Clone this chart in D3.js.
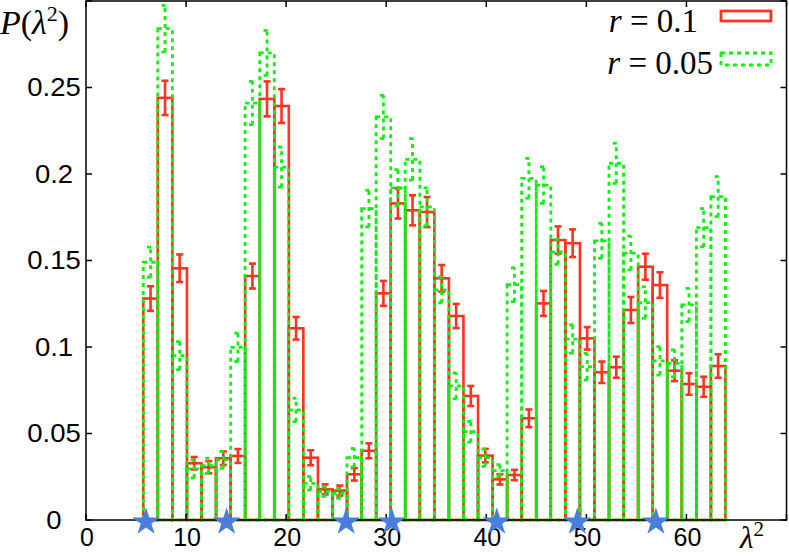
<!DOCTYPE html>
<html>
<head>
<meta charset="utf-8">
<script src="https://cdn.jsdelivr.net/npm/d3@7"></script>
<style>
  body { margin: 0; background: #fff; }
  .tick-label { font-family: "Liberation Sans", Arial, sans-serif; font-size: 25px; fill: #000; }
  .math { font-family: "Liberation Serif", "DejaVu Serif", serif; fill: #000; }
</style>
</head>
<body>
<svg id="chart" width="789" height="557"></svg>
<script>
// bin centres (lambda^2) and bin width
const lambda2 = [6.45, 7.90, 9.36, 10.81, 12.27, 13.72, 15.18, 16.63, 18.09, 19.54,
  20.99, 22.45, 23.90, 25.36, 26.81, 28.27, 29.72, 31.17, 32.63, 34.08,
  35.54, 36.99, 38.45, 39.90, 41.36, 42.81, 44.26, 45.72, 47.17, 48.63,
  50.08, 51.54, 52.99, 54.45, 55.90, 57.35, 58.81, 60.26, 61.72, 63.17];
const binWidth = 1.4544;

// r = 0.1
const redValues = [0.128, 0.244, 0.1455, 0.0328, 0.0305, 0.0357, 0.037, 0.141, 0.2434, 0.2393,
  0.1108, 0.036, 0.0177, 0.017, 0.0264, 0.040, 0.131, 0.183, 0.179, 0.178,
  0.1397, 0.1179, 0.0717, 0.0372, 0.0235, 0.026, 0.0588, 0.1252, 0.1618, 0.160,
  0.105, 0.0854, 0.0883, 0.1214, 0.1464, 0.1358, 0.0863, 0.0786, 0.077, 0.089];
const redErrors = [0.0071, 0.0099, 0.008, 0.0036, 0.0035, 0.0039, 0.004, 0.0072, 0.0101, 0.0098,
  0.0065, 0.0043, 0.0029, 0.0029, 0.0036, 0.0043, 0.0072, 0.0087, 0.0087, 0.0087,
  0.0077, 0.007, 0.0058, 0.0039, 0.003, 0.003, 0.0051, 0.0072, 0.0079, 0.008,
  0.0065, 0.0062, 0.0061, 0.0075, 0.0075, 0.0074, 0.006, 0.0062, 0.0058, 0.0068];

// r = 0.05
const greenValues = [0.149, 0.284, 0.095, 0.0295, 0.0314, 0.0347, 0.0998, 0.241, 0.270, 0.204,
  0.0636, 0.0212, 0.0164, 0.0154, 0.036, 0.180, 0.233, 0.192, 0.2085, 0.181,
  0.133, 0.0775, 0.051, 0.036, 0.0285, 0.136, 0.1975, 0.1936, 0.155, 0.1046,
  0.0886, 0.1614, 0.2062, 0.1543, 0.1257, 0.092, 0.0905, 0.1243, 0.169, 0.1869];
const greenErrors = [0.0087, 0.0135, 0.0081, 0.0052, 0.0043, 0.0048, 0.0082, 0.0125, 0.013, 0.0116,
  0.0068, 0.0039, 0.0029, 0.0029, 0.0053, 0.0106, 0.0125, 0.0105, 0.012, 0.011,
  0.0075, 0.0075, 0.006, 0.005, 0.0035, 0.0098, 0.0115, 0.0106, 0.0072, 0.0082,
  0.0077, 0.0101, 0.0116, 0.0098, 0.0091, 0.0082, 0.0078, 0.0096, 0.011, 0.0116];

// marked lambda^2 values on the axis
const starPositions = [6.0, 14.05, 26.0, 30.55, 41.05, 49.1, 56.95];

const xTicks = [0, 10, 20, 30, 40, 50, 60, 70];
const xTickLabels = ["0", "10", "20", "30", "40", "50", "60", ""];
const yTicks = [0, 0.05, 0.1, 0.15, 0.2, 0.25, 0.3];
const yTickLabels = ["0", "0.05", "0.1", "0.15", "0.2", "0.25", ""];

const legendNames = ["r = 0.1", "r = 0.05"];

const redColor = "#ff3322";
const greenColor = "#11ee11";
const starColor = "#4a7ede";

const svg = d3.select("#chart");

const x = d3.scaleLinear().domain([0, 70]).range([86, 786.5]);
const y = d3.scaleLinear().domain([0, 0.3]).range([520, 1]);

const red = lambda2.map((c, i) => ({c: c, v: redValues[i], e: redErrors[i]}));
const green = lambda2.map((c, i) => ({c: c, v: greenValues[i], e: greenErrors[i]}));

// boxes
function drawBoxes(g, data, color, dash, width) {
    g.selectAll("rect")
        .data(data)
        .join("rect")
        .attr("x", d => x(d.c - binWidth / 2))
        .attr("y", d => y(d.v))
        .attr("width", d => x(d.c + binWidth / 2) - x(d.c - binWidth / 2))
        .attr("height", d => y(0) - y(d.v))
        .attr("fill", "none")
        .attr("stroke", color)
        .attr("stroke-width", width)
        .attr("stroke-dasharray", dash);
}

function drawErrors(g, data, color, dash, width) {
    const cap = 3.5;
    const eb = g.selectAll("g")
        .data(data)
        .join("g");
    eb.append("line")
        .attr("x1", d => x(d.c)).attr("x2", d => x(d.c))
        .attr("y1", d => y(d.v - d.e)).attr("y2", d => y(d.v + d.e));
    eb.append("line")
        .attr("x1", d => x(d.c) - cap).attr("x2", d => x(d.c) + cap)
        .attr("y1", d => y(d.v + d.e)).attr("y2", d => y(d.v + d.e));
    eb.append("line")
        .attr("x1", d => x(d.c) - cap).attr("x2", d => x(d.c) + cap)
        .attr("y1", d => y(d.v - d.e)).attr("y2", d => y(d.v - d.e));
    eb.selectAll("line")
        .attr("stroke", color)
        .attr("stroke-width", width)
        .attr("stroke-dasharray", dash);
}

const redBoxes = svg.append("g");
drawBoxes(redBoxes, red, redColor, null, 2.6);
const redErr = svg.append("g");
drawErrors(redErr, red, redColor, null, 2.6);

const greenBoxes = svg.append("g");
drawBoxes(greenBoxes, green, greenColor, "4,4", 2.8);
const greenErr = svg.append("g");
drawErrors(greenErr, green, greenColor, "4,4", 2.8);

// frame
svg.append("rect")
    .attr("x", x(0)).attr("y", y(0.3))
    .attr("width", x(70) - x(0)).attr("height", y(0) - y(0.3))
    .attr("fill", "none")
    .attr("stroke", "#000")
    .attr("stroke-width", 1.5);

const tickLen = 6;
const axes = svg.append("g").attr("stroke", "#000").attr("stroke-width", 1.5);
yTicks.forEach(t => {
    axes.append("line").attr("x1", x(0)).attr("x2", x(0) + tickLen).attr("y1", y(t)).attr("y2", y(t));
    axes.append("line").attr("x1", x(70)).attr("x2", x(70) - tickLen).attr("y1", y(t)).attr("y2", y(t));
});
xTicks.forEach(t => {
    axes.append("line").attr("x1", x(t)).attr("x2", x(t)).attr("y1", y(0)).attr("y2", y(0) - tickLen);
    axes.append("line").attr("x1", x(t)).attr("x2", x(t)).attr("y1", y(0.3)).attr("y2", y(0.3) + tickLen);
});

yTicks.forEach((t, i) => {
    svg.append("text")
        .attr("class", "tick-label")
        .attr("x", 54)
        .attr("y", y(t) + 9)
        .attr("text-anchor", "middle")
        .attr("transform", `translate(54,0) scale(1.1,1) translate(-54,0)`)
        .text(yTickLabels[i]);
});
xTicks.forEach((t, i) => {
    svg.append("text")
        .attr("class", "tick-label")
        .attr("x", x(t) + 1)
        .attr("y", 546)
        .attr("text-anchor", "middle")
        .text(xTickLabels[i]);
});

// stars
svg.append("g")
    .selectAll("path")
    .data(starPositions)
    .join("path")
    .attr("d", d3.symbol().type(d3.symbolStar).size(240))
    .attr("transform", d => `translate(${x(d)},${y(0) + 2})`)
    .attr("fill", starColor);

// axis titles
const yTitle = svg.append("text").attr("class", "math").attr("x", 0).attr("y", 34).style("font-size", "34px");
yTitle.append("tspan").style("font-style", "italic").text("P");
yTitle.append("tspan").text("(");
yTitle.append("tspan").style("font-style", "italic").text("λ");
yTitle.append("tspan").attr("dy", -13).style("font-size", "22px").text("2");
yTitle.append("tspan").attr("dy", 13).text(")");

const xTitle = svg.append("text").attr("class", "math").attr("x", 740).attr("y", 548).style("font-size", "31px");
xTitle.append("tspan").style("font-style", "italic").text("λ");
xTitle.append("tspan").attr("dy", -12).style("font-size", "21px").text("2");

// legend
const legendY = [32, 74];
const legendColors = [redColor, greenColor];
const legendDash = [null, "4,4"];
legendNames.forEach((name, i) => {
    const t = svg.append("text").attr("class", "math")
        .attr("x", i === 0 ? 698 : 713)
        .attr("y", legendY[i])
        .attr("text-anchor", "end")
        .style("font-size", "33px");
    const parts = name.split(" = ");
    t.append("tspan").style("font-style", "italic").text(parts[0]);
    t.append("tspan").text(" = " + parts[1]);
    svg.append("rect")
        .attr("x", 721)
        .attr("y", legendY[i] - 21)
        .attr("width", 50)
        .attr("height", 10 + i * 2)
        .attr("fill", "none")
        .attr("stroke", legendColors[i])
        .attr("stroke-width", 2.8)
        .attr("stroke-dasharray", legendDash[i]);
});
</script>
</body>
</html>
